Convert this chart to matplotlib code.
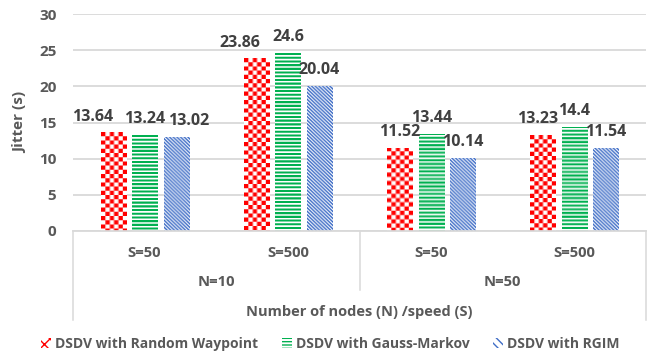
import numpy as np
import matplotlib
matplotlib.use("Agg")
import matplotlib.pyplot as plt
from matplotlib.patches import Patch
from matplotlib.transforms import blended_transform_factory

# ---- data ----
outer_labels = ["N=10", "N=50"]
inner_labels = ["S=50", "S=500", "S=50", "S=500"]
series_names = ["DSDV with Random Waypoint", "DSDV with Gauss-Markov", "DSDV with RGIM"]
random_waypoint = [13.64, 23.86, 11.52, 13.23]
gauss_markov = [13.24, 24.6, 13.44, 14.4]
rgim = [13.02, 20.04, 10.14, 11.54]
y_ticks = [0, 5, 10, 15, 20, 25, 30]

# ---- styles ----
colors = ["#FF0000", "#00B050", "#3F6DC6"]
patterns = ["checker", "hstripe", "diag"]
# horizontal nudges (points) for a few value labels, per series / group
label_nudge = [[-15, -12, 0, -4], [0, 0, 0, 0], [9, 0, 0, 0]]

plt.rcParams["font.family"] = ["Open Sans", "DejaVu Sans"]
TXT = "#595959"
LBL = "#404040"
GRID = "#D9D9D9"

fig = plt.figure(figsize=(6.61, 3.56), dpi=100)
ax = fig.add_axes([73 / 661, 1 - 231 / 356, (646 - 73) / 661, 217 / 356])

n = len(inner_labels)
x = np.arange(n)
bar_w = 0.175
step = 0.22
ax.set_xlim(-0.5, n - 0.5)
ax.set_ylim(0, 30)


def pattern_image(kind, w, h, color, s=4):
    xs = (np.arange(w * s) + 0.5) / s
    ys = (np.arange(h * s) + 0.5) / s
    xx, yy = np.meshgrid(xs, ys)
    if kind == "checker":
        on = ((np.floor(xx / 4.2) + np.floor(yy / 4.2)) % 2) == 0
    elif kind == "hstripe":
        on = (yy % 3.7) < 2.1
    else:
        on = ((xx - yy) % 3.5) < 1.9
    f = on.astype(float).reshape(h, s, w, s).mean(axis=(1, 3))
    rgb = np.array(matplotlib.colors.to_rgb(color))
    img = np.ones((h, w, 3)) * (1 - f[..., None]) + rgb * f[..., None]
    return img


all_series = [random_waypoint, gauss_markov, rgim]
for i, (vals, col, pat) in enumerate(zip(all_series, colors, patterns)):
    pos = x + (i - 1) * step
    bars = ax.bar(pos, vals, width=bar_w, color="white", edgecolor="none",
                  zorder=2)
    for j, b in enumerate(bars):
        bb = b.get_window_extent()
        w = max(int(round(bb.width)), 1)
        h = max(int(round(bb.height)), 1)
        img = pattern_image(pat, w, h, col)
        x0, y0 = b.get_x(), b.get_y()
        im = ax.imshow(img, extent=(x0, x0 + b.get_width(), y0, y0 + b.get_height()),
                       interpolation="bilinear", aspect="auto", zorder=2.5)
        im.set_clip_path(b)
        ax.annotate(f"{vals[j]:g}", (pos[j], vals[j]),
                    xytext=(label_nudge[i][j], 8.5), textcoords="offset points",
                    ha="center", va="baseline", fontsize=11.5,
                    fontweight="bold", color=LBL, zorder=4)

ax.set_xlim(-0.5, n - 0.5)
ax.set_ylim(0, 30)
ax.set_yticks(y_ticks)
ax.grid(axis="y", color=GRID, linewidth=1.3, zorder=0)
ax.set_axisbelow(True)
for side in ["top", "right", "left"]:
    ax.spines[side].set_visible(False)
ax.spines["bottom"].set_color(GRID)
ax.spines["bottom"].set_linewidth(1.3)
ax.tick_params(axis="y", length=0, pad=12, labelsize=11, labelcolor=TXT)
for t in ax.get_yticklabels():
    t.set_fontweight("bold")
ax.set_xticks(x)
ax.set_xticklabels(inner_labels, fontsize=10.7, fontweight="bold", color=TXT)
ax.tick_params(axis="x", length=0, pad=11)

ax.set_ylabel("Jitter (s)", fontsize=11, fontweight="bold", color=TXT)
ax.yaxis.set_label_coords(-(73 - 27) / 573, 0.5)

# multi-level category axis
trans = blended_transform_factory(ax.transData, ax.transAxes)
for k, lab in enumerate(outer_labels):
    cx = (2 * k + 2 * k + 1) / 2
    ax.text(cx, -0.235, lab, transform=trans, ha="center", va="center",
            fontsize=10.7, fontweight="bold", color=TXT)
for xs, yb in [(-0.5, -0.41), (1.5, -0.272), (n - 0.5, -0.41)]:
    ax.plot([xs, xs], [0, yb], transform=trans, color=GRID, lw=1.1,
            clip_on=False, zorder=1)

ax.text(0.5, -0.373, "Number of nodes (N) /speed (S)", transform=ax.transAxes,
        ha="center", va="center", fontsize=10.5, fontweight="bold", color=TXT)

hatches = ["xxx", "-----", "\\\\\\\\"]
handles = [Patch(facecolor="white", edgecolor=c, hatch=h, linewidth=0)
           for c, h in zip(colors, hatches)]
fig.legend(handles, series_names, loc="center", bbox_to_anchor=(0.5, 1 - 344 / 356),
           ncol=3, frameon=False, handlelength=0.7, handleheight=0.7,
           handletextpad=0.3, columnspacing=1.7,
           prop={"size": 10, "weight": "bold"}, labelcolor=TXT)

fig.savefig("out.png", dpi=100)
